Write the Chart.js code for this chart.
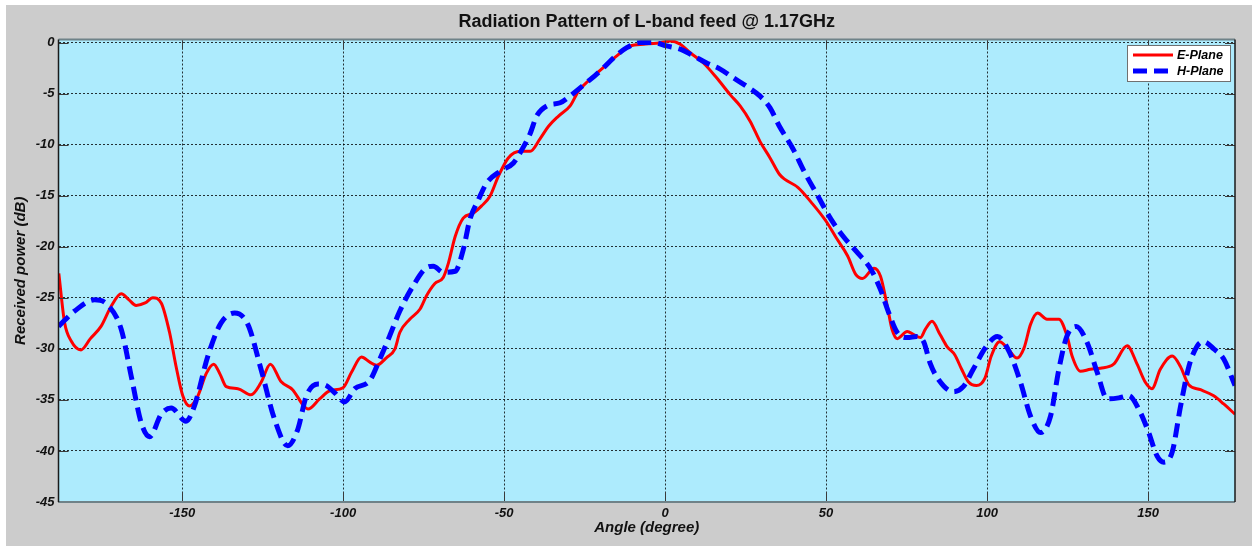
<!DOCTYPE html>
<html><head><meta charset="utf-8">
<script src="https://cdn.jsdelivr.net/npm/chart.js@4.4.0/dist/chart.umd.min.js"></script>
<style>
html,body{margin:0;padding:0;background:#fff;}
#wrap{position:absolute;left:6px;top:5px;width:1246px;height:541px;background:#cccccc;}
canvas{display:block;}
</style></head><body>
<div id="wrap"><canvas id="c" width="1246" height="541"></canvas></div>
<script>
const eAngle = [-188.3,-186.5,-184.5,-181.4,-178.5,-175.2,-172.0,-168.9,-166.5,-164.3,-161.5,-159.1,-156.5,-153.9,-151.9,-149.8,-147.7,-145.1,-142.5,-140.2,-138.2,-136.3,-132.7,-128.6,-125.5,-122.6,-119.3,-115.7,-112.2,-110.9,-107.3,-104.1,-100.0,-97.4,-94.3,-91.7,-89.6,-86.5,-83.9,-82.4,-79.3,-76.1,-74.1,-71.5,-68.9,-67.3,-65.2,-62.7,-59.5,-57.0,-54.4,-51.8,-48.7,-45.0,-41.9,-38.8,-36.2,-33.1,-29.5,-26.9,-23.3,-19.2,-15.0,-10.9,-6.7,-2.6,1.6,4.7,7.8,11.9,16.0,20.2,23.3,26.4,29.5,32.6,35.5,37.2,41.3,45.4,50.0,53.1,56.7,59.2,61.3,64.9,66.9,69.0,70.5,72.1,75.2,77.2,79.3,80.8,82.9,85.4,87.5,90.0,92.1,94.1,96.7,99.3,101.3,103.9,106.5,109.3,111.5,113.5,115.7,118.6,122.3,124.8,126.4,129.0,132.1,135.2,139.3,143.5,146.6,149.2,151.2,153.8,157.5,160.0,162.6,166.3,170.4,173.5,177.0];
const ePower = [-22.6,-27.45,-29.2,-30.1,-29.0,-27.8,-25.8,-24.6,-25.2,-25.75,-25.5,-25.0,-25.5,-28.4,-31.7,-34.6,-35.6,-34.6,-32.4,-31.5,-32.5,-33.7,-33.9,-34.5,-33.3,-31.5,-33.2,-34.0,-35.6,-35.9,-34.9,-34.1,-33.8,-32.3,-30.8,-31.3,-31.6,-30.85,-30.0,-28.4,-27.1,-26.1,-24.8,-23.6,-23.0,-21.6,-19.0,-17.2,-16.7,-16.0,-15.05,-13.1,-11.3,-10.65,-10.65,-9.4,-8.2,-7.2,-6.2,-4.75,-3.6,-2.45,-1.3,-0.33,-0.16,-0.07,0.16,-0.16,-1.0,-2.0,-3.45,-5.1,-6.2,-7.7,-9.7,-11.3,-12.9,-13.4,-14.2,-15.65,-17.5,-19.1,-20.9,-22.7,-23.1,-22.1,-22.9,-25.8,-28.1,-29.0,-28.3,-28.6,-28.9,-28.1,-27.3,-28.6,-29.75,-30.6,-32.0,-33.2,-33.6,-32.9,-30.7,-29.3,-30.0,-30.9,-29.9,-27.6,-26.5,-27.1,-27.1,-28.7,-30.7,-32.2,-32.0,-31.9,-31.5,-29.7,-31.5,-33.3,-33.9,-32.0,-30.7,-31.7,-33.5,-34.0,-34.6,-35.4,-36.4];
const hAngle = [-188.4,-183.4,-177.2,-173.1,-168.9,-165.8,-162.7,-160.1,-156.5,-153.4,-148.8,-146.2,-142.0,-137.9,-133.7,-129.6,-125.5,-121.3,-117.2,-114.1,-111.4,-107.8,-105.2,-102.6,-99.5,-96.4,-91.7,-88.6,-85.5,-82.4,-78.2,-74.1,-72.0,-68.9,-65.2,-62.7,-60.6,-58.0,-55.4,-51.2,-47.1,-44.5,-41.9,-39.9,-36.7,-32.6,-29.0,-24.3,-20.2,-16.0,-11.9,-7.8,-3.6,0.5,4.7,8.8,12.9,17.1,21.2,25.4,29.5,32.6,35.5,39.7,43.3,47.4,51.5,55.6,59.8,63.9,66.9,69.5,72.1,75.2,78.2,80.3,82.3,84.9,89.5,92.6,95.7,99.8,103.2,106.9,110.4,113.5,116.6,119.7,122.3,124.8,127.7,131.1,134.2,137.3,140.9,144.0,147.1,150.2,152.8,154.9,157.5,160.1,162.7,165.3,167.3,170.4,173.5,177.0];
const hPower = [-27.8,-26.3,-25.2,-25.7,-28.1,-32.7,-37.25,-38.6,-36.4,-35.8,-37.1,-35.6,-30.7,-27.45,-26.5,-27.6,-32.0,-36.9,-39.5,-37.9,-34.6,-33.45,-33.6,-34.3,-35.2,-33.9,-33.1,-31.0,-28.7,-26.3,-23.8,-22.05,-21.9,-22.5,-22.4,-20.3,-17.3,-15.4,-13.75,-12.6,-11.8,-10.5,-8.9,-7.2,-6.2,-5.9,-5.1,-3.9,-2.8,-1.5,-0.5,0.0,0.0,-0.33,-0.65,-1.3,-2.0,-2.6,-3.45,-4.3,-5.25,-6.4,-8.2,-10.4,-12.7,-15.0,-17.3,-19.1,-20.6,-22.2,-24.2,-26.5,-28.4,-28.9,-28.8,-29.3,-31.4,-33.0,-34.2,-33.7,-32.0,-29.75,-28.8,-30.3,-33.3,-36.6,-38.2,-36.6,-32.0,-28.75,-27.8,-29.4,-32.3,-34.9,-34.8,-34.6,-35.9,-38.2,-40.5,-41.1,-40.1,-35.6,-31.7,-29.7,-29.3,-30.0,-31.0,-33.6];
const xTickValues = [-150,-100,-50,0,50,100,150];
const yTickValues = [0,-5,-10,-15,-20,-25,-30,-35,-40,-45];
const seriesLabels = ['E-Plane','H-Plane'];
const titleText = 'Radiation Pattern of L-band feed @ 1.17GHz';
const xTitle = 'Angle (degree)';
const yTitle = 'Received power (dB)';

const FONT = "'Liberation Sans', Arial, sans-serif";
const toPts = (xs, ys) => xs.map((x, i) => ({x: x, y: ys[i]}));

const bgPlugin = {
  id: 'bg',
  beforeDraw(chart) {
    const a = chart.chartArea, ctx = chart.ctx;
    ctx.save();
    ctx.fillStyle = 'rgb(173,235,253)';
    ctx.fillRect(a.left, a.top, a.right - a.left, a.bottom - a.top);
    ctx.restore();
  }
};

const framePlugin = {
  id: 'frame',
  afterDatasetsDraw(chart) {
    const a = chart.chartArea, ctx = chart.ctx;
    const xs = chart.scales.x, ys = chart.scales.y;
    ctx.save();
    ctx.strokeStyle = '#3a3a3a';
    ctx.lineWidth = 1;
    ctx.setLineDash([]);
    const L = 10;
    xTickValues.forEach(v => {
      const p = Math.round(xs.getPixelForValue(v)) + 0.5;
      ctx.beginPath();
      ctx.moveTo(p, a.bottom); ctx.lineTo(p, a.bottom - L);
      ctx.moveTo(p, a.top); ctx.lineTo(p, a.top + L);
      ctx.stroke();
    });
    yTickValues.forEach(v => {
      const p = Math.round(ys.getPixelForValue(v)) + 0.5;
      ctx.beginPath();
      ctx.moveTo(a.left, p); ctx.lineTo(a.left + L, p);
      ctx.moveTo(a.right, p); ctx.lineTo(a.right - L, p);
      ctx.stroke();
    });
    ctx.lineWidth = 2;
    ctx.strokeStyle = '#6f8288';
    ctx.beginPath();
    ctx.moveTo(a.left, a.top); ctx.lineTo(a.right, a.top);
    ctx.moveTo(a.left, a.bottom); ctx.lineTo(a.right, a.bottom);
    ctx.stroke();
    ctx.strokeStyle = '#1a1a1a';
    ctx.lineWidth = 1.5;
    ctx.beginPath();
    ctx.moveTo(a.left, a.top); ctx.lineTo(a.left, a.bottom);
    ctx.moveTo(a.right, a.top); ctx.lineTo(a.right, a.bottom);
    ctx.stroke();
    ctx.restore();
  }
};

const legendPlugin = {
  id: 'boxLegend',
  afterDraw(chart) {
    const a = chart.chartArea, ctx = chart.ctx;
    const w = 103, h = 36;
    const x0 = a.right - 5 - w, y0 = a.top + 5.5;
    ctx.save();
    ctx.fillStyle = '#ffffff';
    ctx.fillRect(x0, y0, w, h);
    ctx.strokeStyle = '#707070';
    ctx.lineWidth = 1;
    ctx.strokeRect(x0 + 0.5, y0 + 0.5, w, h);
    chart.data.datasets.forEach((ds, i) => {
      const yy = y0 + 10 + i * 16;
      ctx.strokeStyle = ds.borderColor;
      ctx.lineWidth = ds.borderWidth;
      ctx.setLineDash(ds.borderDash || []);
      ctx.beginPath();
      ctx.moveTo(x0 + 6, yy); ctx.lineTo(x0 + 46, yy);
      ctx.stroke();
      ctx.setLineDash([]);
      ctx.fillStyle = '#000';
      ctx.font = 'italic bold 12.5px ' + FONT;
      ctx.textBaseline = 'middle';
      ctx.textAlign = 'left';
      ctx.fillText(ds.label, x0 + 50, yy + 0.5);
    });
    ctx.restore();
  }
};

const tickFont = {family: FONT, size: 13, weight: 'bold', style: 'italic'};

new Chart(document.getElementById('c'), {
  type: 'line',
  data: {
    datasets: [
      {label: seriesLabels[0], data: toPts(eAngle, ePower), borderColor: '#ff0000', borderWidth: 3,
       pointRadius: 0, fill: false, cubicInterpolationMode: 'monotone', order: 1},
      {label: seriesLabels[1], data: toPts(hAngle, hPower), borderColor: '#0000ff', borderWidth: 5,
       borderDash: [14, 7], pointRadius: 0, fill: false, cubicInterpolationMode: 'monotone', order: 0}
    ]
  },
  options: {
    responsive: false,
    animation: false,
    devicePixelRatio: 1,
    layout: {padding: {left: 0, right: 17, top: 0, bottom: 0}},
    plugins: {
      legend: {display: false},
      tooltip: {enabled: false},
      title: {display: true, text: titleText, fullSize: false, color: '#111',
              font: {family: FONT, size: 18, weight: 'bold'}, padding: {top: 6.5, bottom: 6.4}}
    },
    scales: {
      x: {
        type: 'linear', min: -188.4, max: 177,
        afterBuildTicks: s => { s.ticks = xTickValues.map(v => ({value: v})); },
        afterFit: s => { s.height = 44; },
        grid: {color: 'rgba(0,0,0,0.8)', lineWidth: 1, drawTicks: false},
        border: {display: false, dash: [2, 2]},
        ticks: {font: tickFont, color: '#111', padding: 4, maxRotation: 0, autoSkip: false},
        title: {display: true, text: xTitle, color: '#111',
                font: {family: FONT, size: 15, weight: 'bold', style: 'italic'}, padding: {top: 0, bottom: 9}}
      },
      y: {
        type: 'linear', min: -45, max: 0.3,
        afterBuildTicks: s => { s.ticks = yTickValues.map(v => ({value: v})); },
        afterFit: s => { s.width = 52.5; },
        grid: {color: 'rgba(0,0,0,0.8)', lineWidth: 1, drawTicks: false},
        border: {display: false, dash: [2, 2]},
        ticks: {font: tickFont, color: '#111', padding: 4, autoSkip: false},
        title: {display: true, text: yTitle, color: '#111',
                font: {family: FONT, size: 15, weight: 'bold', style: 'italic'}, padding: {top: 6, bottom: 0}}
      }
    }
  },
  plugins: [bgPlugin, framePlugin, legendPlugin]
});
</script>
</body></html>
